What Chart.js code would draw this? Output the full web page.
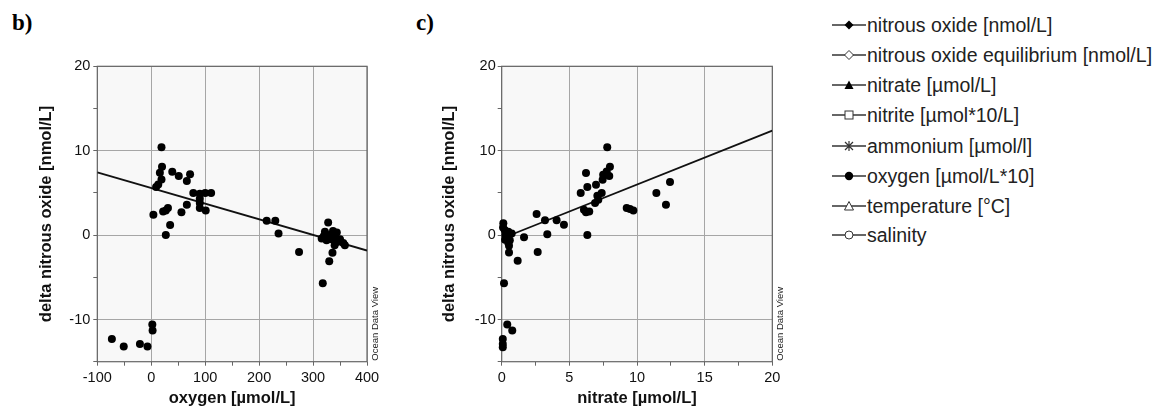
<!DOCTYPE html>
<html>
<head>
<meta charset="utf-8">
<script src="https://cdn.jsdelivr.net/npm/chart.js@4"></script>
<style>
  body { margin: 0; background: #fff; width: 1154px; height: 407px; overflow: hidden; position: relative; font-family: "Liberation Sans", Arial, sans-serif; }
  canvas { position: absolute; top: 0; }
  .panel { position: absolute; font-family: "Liberation Serif", "Times New Roman", serif; font-weight: bold; font-size: 23px; line-height: 23px; color: #000; }
  .legend { position: absolute; left: 832px; top: 0; }
  .row { position: absolute; left: 0; height: 20px; white-space: nowrap; font-size: 19.5px; line-height: 20px; color: #222; }
  .row svg { position: absolute; left: 0; top: 3px; }
  .row span { position: absolute; left: 35px; top: 0; }
</style>
</head>
<body>
<div class="panel" style="left:12px;top:11px">b)</div>
<div class="panel" style="left:416px;top:11px">c)</div>
<canvas id="chartB" width="400" height="407" style="left:0"></canvas>
<canvas id="chartC" width="400" height="407" style="left:400px"></canvas>
<div class="legend" id="legend"></div>

<script>
// panel b: delta N2O vs oxygen
const oxygen = [-73, -51, -21, -7, 2, 2.5, 19, 20, 16, 19, 13, 9, 39, 51, 72, 66, 78, 90, 100, 111,
  90, 90, 90, 101, 66, 56, 4, 22, 27, 31, 35, 27, 214, 230, 236, 274, 318, 330, 336, 328,
  322, 316, 331, 340, 346, 356, 340, 337, 325, 344, 350, 359, 320, 334];
const deltaB = [-12.3, -13.2, -12.9, -13.2, -10.6, -11.3, 10.4, 8.1, 7.4, 6.6, 6.0, 5.7, 7.5, 7.0, 7.2, 6.4, 5.0, 4.9, 5.0, 5.0,
  4.3, 3.8, 3.2, 2.9, 3.6, 2.7, 2.4, 2.8, 2.9, 3.2, 1.2, 0.0, 1.7, 1.7, 0.2, -2.0, -5.7, -3.1, -2.1, 1.5,
  0.4, -0.4, 0.0, -0.2, -0.8, -0.95, -1.2, 0.5, -0.6, 0.3, -0.5, -1.2, -0.1, -0.5];
const fitBx = [-100, 400];
const fitBy = [7.43, -1.83];

// panel c: delta N2O vs nitrate
const nitrate = [7.8, 8.0, 7.76, 7.5, 7.95, 7.46, 6.23, 6.33, 5.84, 6.97, 7.39, 7.07, 6.9, 7.14, 6.08, 6.23, 6.47, 6.33,
  9.24, 9.48, 9.73, 11.43, 12.14, 12.44, 2.58, 3.2, 4.06, 4.6, 3.37, 1.65, 2.66, 1.18, 0.54, 0.54,
  0.17, 0.41, 0.78, 0.08, 0.08, 0.08, 0.12, 0.49, 0.74, 0.27, 0.25, 0.49, 0.22, 0.35, 0.6, 0.1, 0.45];
const deltaC = [10.4, 8.1, 7.55, 7.15, 7.0, 6.55, 7.35, 5.7, 5.0, 5.97, 5.0, 4.65, 3.8, 4.2, 3.0, 2.7, 2.8, 0.0,
  3.2, 3.1, 2.9, 5.0, 3.6, 6.3, 2.5, 1.75, 1.75, 1.22, 0.1, -0.25, -2.0, -3.05, -2.05, -1.27,
  -5.7, -10.6, -11.3, -12.3, -12.9, -13.3, 1.4, 0.4, 0.2, 0.0, -0.55, -0.95, 0.6, -0.3, -0.6, 0.9, 0.1];
const fitCx = [0.6, 20];
const fitCy = [-0.02, 12.37];

// ticks
const yTicks = [-15, -10, -5, 0, 5, 10, 15, 20];
const yLabels = [-10, 0, 10, 20];
const xTicksB = [-100, -50, 0, 50, 100, 150, 200, 250, 300, 350, 400];
const xLabelsB = [-100, 0, 100, 200, 300, 400];
const xTicksC = [0, 2.5, 5, 7.5, 10, 12.5, 15, 17.5, 20];
const xLabelsC = [0, 5, 10, 15, 20];

const legendLabels = [
  "nitrous oxide [nmol/L]",
  "nitrous oxide equilibrium [nmol/L]",
  "nitrate [µmol/L]",
  "nitrite [µmol*10/L]",
  "ammonium [µmol/l]",
  "oxygen [µmol/L*10]",
  "temperature [°C]",
  "salinity"
];

const FONT = "'Liberation Sans', Arial, sans-serif";

const frame = {
  id: 'frame',
  beforeDraw(chart) {
    const {ctx, chartArea: a} = chart;
    ctx.save();
    ctx.fillStyle = '#f8f8f8';
    ctx.fillRect(a.left, a.top, a.right - a.left, a.bottom - a.top);
    ctx.restore();
  },
  beforeDatasetsDraw(chart) {
    const {ctx, chartArea: a} = chart;
    ctx.save();
    ctx.strokeStyle = '#666';
    ctx.lineWidth = 1.2;
    ctx.strokeRect(a.left, a.top, a.right - a.left, a.bottom - a.top);
    ctx.restore();
  },
  afterDraw(chart) {
    const {ctx, chartArea: a} = chart;
    ctx.save();
    ctx.translate(a.right + 8, a.bottom - 1);
    ctx.rotate(-Math.PI / 2);
    ctx.font = '9.5px ' + FONT;
    ctx.fillStyle = '#222';
    ctx.textAlign = 'left';
    ctx.textBaseline = 'middle';
    ctx.fillText('Ocean Data View', 0, 0);
    ctx.restore();
  }
};

function pts(xs, ys) {
  return xs.map((x, i) => ({x: x, y: ys[i]}));
}

function axis(min, max, ticks, labels, title, fit, titlePad, tickPad) {
  return {
    type: 'linear',
    min: min,
    max: max,
    afterBuildTicks: (s) => { s.ticks = ticks.map(v => ({value: v})); },
    afterFit: fit,
    border: {display: false},
    grid: {
      color: (c) => (c.tick && labels.includes(c.tick.value)) ? '#a6a6a6' : 'rgba(0,0,0,0)',
      tickColor: '#666',
      tickLength: 4,
      lineWidth: 1
    },
    ticks: {
      autoSkip: false,
      maxRotation: 0,
      padding: tickPad,
      color: '#111',
      font: {family: FONT, size: 14.5},
      callback: (v) => labels.includes(v) ? String(v) : ''
    },
    title: {
      display: true,
      text: title,
      color: '#111',
      padding: titlePad,
      font: {family: FONT, size: 16.5, weight: 'bold', lineHeight: 1}
    }
  };
}

function makeChart(id, xs, ys, fx, fy, xMin, xMax, xTicks, xLabels, xTitle, yWidth, padRight, yTitlePad, yTickPad) {
  return new Chart(document.getElementById(id), {
    type: 'scatter',
    data: {
      datasets: [
        {
          data: pts(xs, ys),
          backgroundColor: '#000',
          borderColor: '#000',
          pointRadius: 4,
          borderWidth: 0,
          clip: false
        },
        {
          data: pts(fx, fy),
          showLine: true,
          borderColor: '#111',
          borderWidth: 1.8,
          pointRadius: 0
        }
      ]
    },
    options: {
      responsive: false,
      animation: false,
      layout: {padding: {left: 0, right: padRight, top: 66.3, bottom: 0}},
      plugins: {legend: {display: false}, tooltip: {enabled: false}},
      scales: {
        x: axis(xMin, xMax, xTicks, xLabels, xTitle, (s) => { s.height = 45.3; }, {top: 0, bottom: 0}, 4),
        y: axis(-15, 20, yTicks, yLabels, 'delta nitrous oxide [nmol/L]', (s) => { s.width = yWidth; }, {top: yTitlePad, bottom: 0}, yTickPad)
      }
    },
    plugins: [frame]
  });
}

makeChart('chartB', oxygen, deltaB, fitBx, fitBy, -100, 400, xTicksB, xLabelsB, 'oxygen [µmol/L]', 97.3, 33, 38.4, 3);
makeChart('chartC', nitrate, deltaC, fitCx, fitCy, 0, 20, xTicksC, xLabelsC, 'nitrate [µmol/L]', 101.7, 27.7, 41.7, 2);

// legend (static key from the original figure)
const markers = [
  '<polygon points="17,2.5 21.5,7 17,11.5 12.5,7" fill="#000"/>',
  '<polygon points="17,2.5 21.5,7 17,11.5 12.5,7" fill="#fff" stroke="#333" stroke-width="1"/>',
  '<polygon points="17,2.5 21.5,11 12.5,11" fill="#000"/>',
  '<rect x="13" y="3" width="8" height="8" fill="#fff" stroke="#333" stroke-width="1"/>',
  '<path d="M13,3 L21,11 M21,3 L13,11 M17,2 L17,12" stroke="#333" stroke-width="1.2"/>',
  '<circle cx="17" cy="7" r="4.2" fill="#000"/>',
  '<polygon points="17,2.5 21.5,11 12.5,11" fill="#fff" stroke="#333" stroke-width="1"/>',
  '<circle cx="17" cy="7" r="4" fill="#fff" stroke="#333" stroke-width="1"/>'
];
const rowY = [25, 55, 84.5, 115, 145.5, 175.5, 205.5, 235];
const legend = document.getElementById('legend');
legendLabels.forEach((t, i) => {
  const row = document.createElement('div');
  row.className = 'row';
  row.style.top = (rowY[i] - 10) + 'px';
  row.innerHTML = '<svg width="34" height="14"><line x1="0" y1="7" x2="34" y2="7" stroke="#333" stroke-width="1.3"/>' +
    markers[i] + '</svg><span></span>';
  row.querySelector('span').textContent = t;
  legend.appendChild(row);
});
</script>
</body>
</html>
